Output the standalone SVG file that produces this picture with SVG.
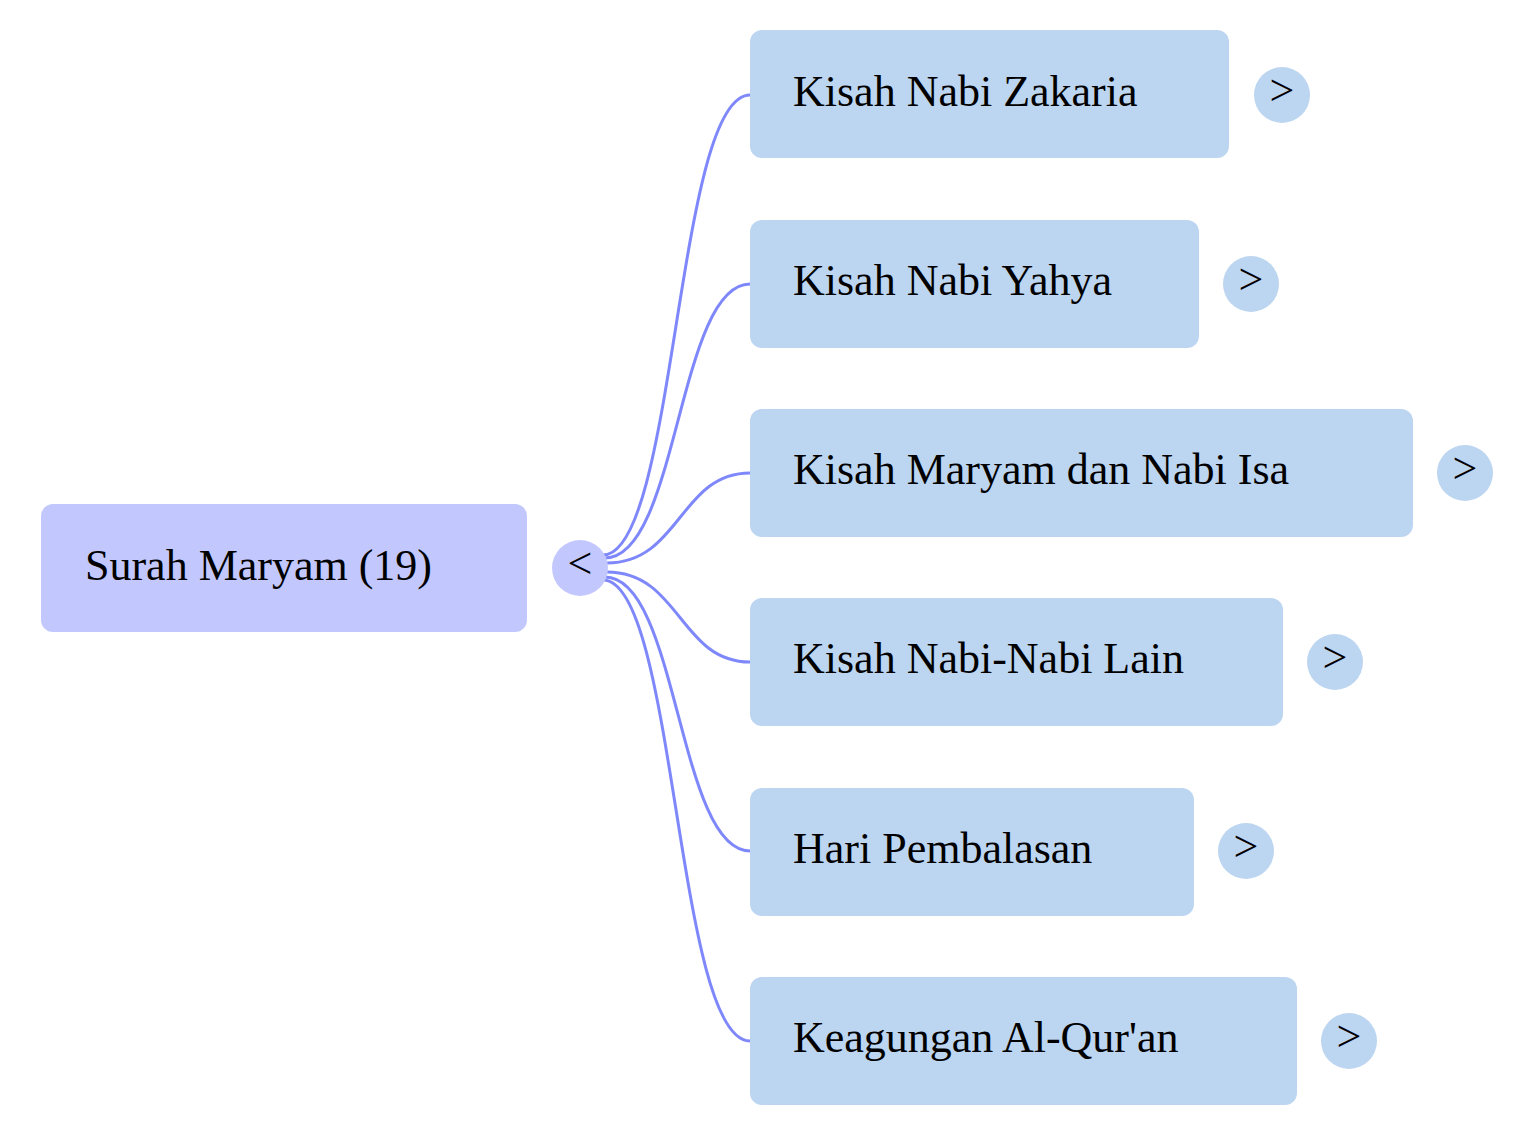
<svg xmlns="http://www.w3.org/2000/svg" width="1534" height="1136" viewBox="0 0 1534 1136">
<style>
.root{fill:#c2c8fd}.child{fill:#bcd5f0}
text{font-family:"Liberation Serif",serif;font-size:44px;fill:#000}
.c{fill:none;stroke:#7f88fb;stroke-width:3}
</style>
<rect width="1534" height="1136" fill="#fff"/>
<g id="connectors">
<path class="c" d="M603 555 C676 555 676 95 750 95"/>
<path class="c" d="M605 558 C678 558 678 284 750 284"/>
<path class="c" d="M607 563 C680 563 680 473 750 473"/>
<path class="c" d="M607 572 C680 572 680 662 750 662"/>
<path class="c" d="M605 577 C678 577 678 851 750 851"/>
<path class="c" d="M603 580 C676 580 676 1041 750 1041"/>
</g>
<g id="root"><rect class="root" x="41" y="504" width="486" height="128" rx="12"/><text x="85" y="580">Surah Maryam (19)</text>
<circle class="root" cx="580" cy="568" r="28"/><text x="580" y="578" text-anchor="middle">&lt;</text></g>
<g id="n1"><rect class="child" x="750" y="30" width="479" height="128" rx="12"/><text x="793" y="106">Kisah Nabi Zakaria</text><circle class="child" cx="1282" cy="95" r="28"/><text x="1282" y="105" text-anchor="middle">&gt;</text></g>
<g id="n2"><rect class="child" x="750" y="220" width="449" height="128" rx="12"/><text x="793" y="295">Kisah Nabi Yahya</text><circle class="child" cx="1251" cy="284" r="28"/><text x="1251" y="294" text-anchor="middle">&gt;</text></g>
<g id="n3"><rect class="child" x="750" y="409" width="663" height="128" rx="12"/><text x="793" y="484">Kisah Maryam dan Nabi Isa</text><circle class="child" cx="1465" cy="473" r="28"/><text x="1465" y="483" text-anchor="middle">&gt;</text></g>
<g id="n4"><rect class="child" x="750" y="598" width="533" height="128" rx="12"/><text x="793" y="673">Kisah Nabi-Nabi Lain</text><circle class="child" cx="1335" cy="662" r="28"/><text x="1335" y="672" text-anchor="middle">&gt;</text></g>
<g id="n5"><rect class="child" x="750" y="788" width="444" height="128" rx="12"/><text x="793" y="863">Hari Pembalasan</text><circle class="child" cx="1246" cy="851" r="28"/><text x="1246" y="861" text-anchor="middle">&gt;</text></g>
<g id="n6"><rect class="child" x="750" y="977" width="547" height="128" rx="12"/><text x="793" y="1052">Keagungan Al-Qur'an</text><circle class="child" cx="1349" cy="1041" r="28"/><text x="1349" y="1051" text-anchor="middle">&gt;</text></g>
</svg>
